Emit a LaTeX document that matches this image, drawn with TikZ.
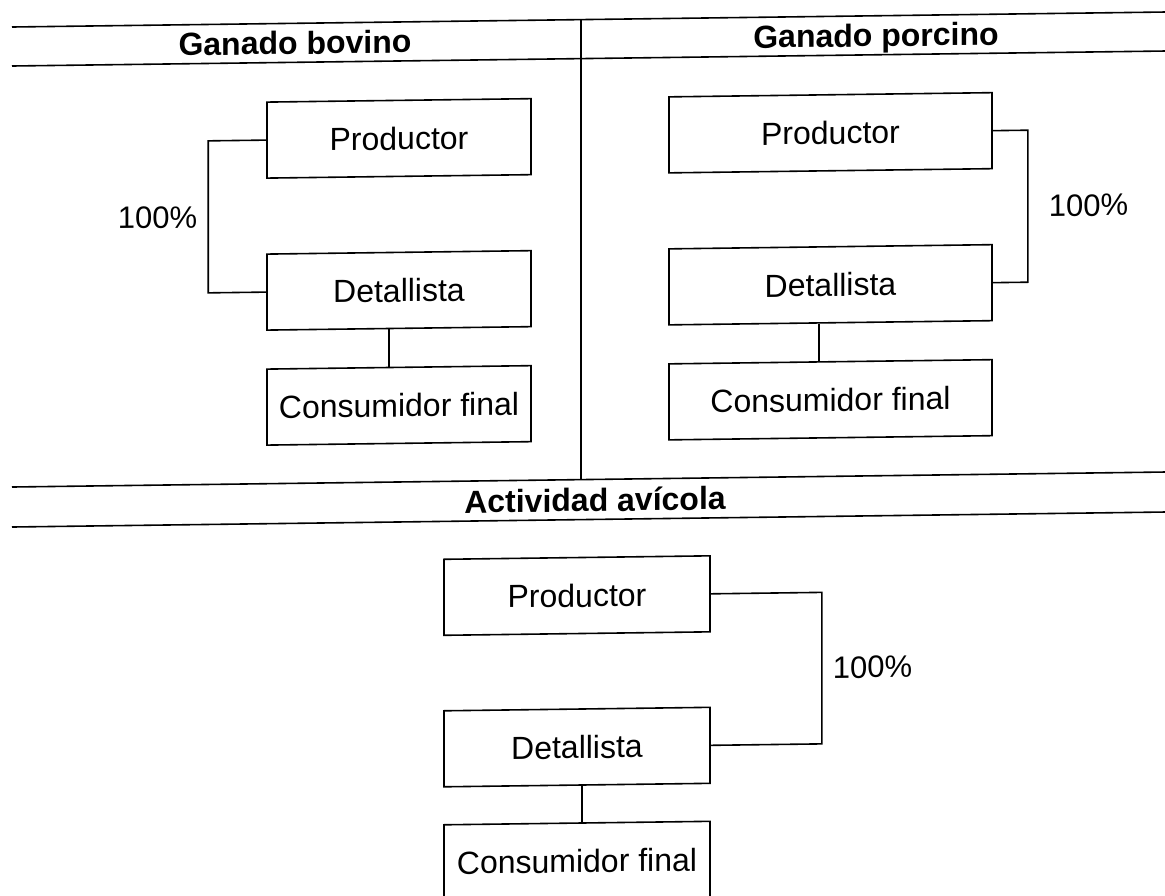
\documentclass[tikz,border=0pt]{standalone}
\usepackage{fontspec}
\setmainfont{Liberation Sans}
\begin{document}
\begin{tikzpicture}[x=1pt,y=-1pt,
  box/.style={draw, line width=1.6pt, minimum width=#1, minimum height=76pt,
    inner sep=0pt, font=\fontsize{32}{38}\selectfont},
  box/.default=264pt,
  conn/.style={draw, line width=1.6pt},
  rule/.style={draw, line width=1.6pt},
  head/.style={font=\fontsize{32}{38}\selectfont\bfseries, inner sep=0pt},
  pct/.style={font=\fontsize{31}{37}\selectfont, inner sep=0pt}]
\useasboundingbox (0,0) rectangle (1165,896);
\clip (0,0) rectangle (1165,896);
\begin{scope}[shift={(582,0)}, yslant=0.013, shift={(-582,0)}, transform shape]
  % header rules
  \coordinate (r1l) at (12,19.6);  \coordinate (r1r) at (1175,19.6);
  \coordinate (r2l) at (12,58.6);  \coordinate (r2r) at (1175,58.6);
  \coordinate (r3l) at (12,479.6); \coordinate (r3r) at (1175,479.6);
  \coordinate (r4l) at (12,519.6); \coordinate (r4r) at (1175,519.6);
  \coordinate (dvt) at (581,19.6); \coordinate (dvb) at (581,479.6);
  \draw[rule] (r1l) -- (r1r);
  \draw[rule] (r2l) -- (r2r);
  \draw[rule] (r3l) -- (r3r);
  \draw[rule] (r4l) -- (r4r);
  \draw[rule] (dvt) -- (dvb);

  % headers
  \node[head, anchor=base] (hb) at (295,50.5) {Ganado bovino};
  \node[head, anchor=base] (hp) at (876,50.5) {Ganado porcino};
  \node[head, anchor=base] (ha) at (595,511.5) {Actividad avícola};

  % Ganado bovino
  \node[box=264pt] (lp) at (399,136) {Productor};
  \node[box=264pt] (ld) at (399,288) {Detallista};
  \node[box=264pt] (lc) at (399,403) {Consumidor final};
  \draw[conn] (lp.west) -- ++(-58,0) |- (ld.west);
  \draw[conn] ([xshift=-10pt]ld.south) -- ([xshift=-10pt]lc.north);
  \node[pct] (l100) at (157.5,212) {100\%};

  % Ganado porcino
  \node[box=323pt] (rp) at (830.5,136) {Productor};
  \node[box=323pt] (rd) at (830.5,288) {Detallista};
  \node[box=323pt] (rc) at (830.5,403) {Consumidor final};
  \draw[conn] (rp.east) -- ++(35,0) |- (rd.east);
  \draw[conn] ([xshift=-11.5pt]rd.south) -- ([xshift=-11.5pt]rc.north);
  \node[pct] (r100) at (1088.5,212) {100\%};

  % Actividad avicola
  \node[box=266pt] (bp) at (577,595.5) {Productor};
  \node[box=266pt] (bd) at (577,747) {Detallista};
  \node[box=266pt] (bc) at (577,861) {Consumidor final};
  \draw[conn] (bp.east) -- ++(111,0) |- (bd.east);
  \draw[conn] ([xshift=5pt]bd.south) -- ([xshift=5pt]bc.north);
  \node[pct] (b100) at (872.5,671) {100\%};
\end{scope}
\end{tikzpicture}
\end{document}
